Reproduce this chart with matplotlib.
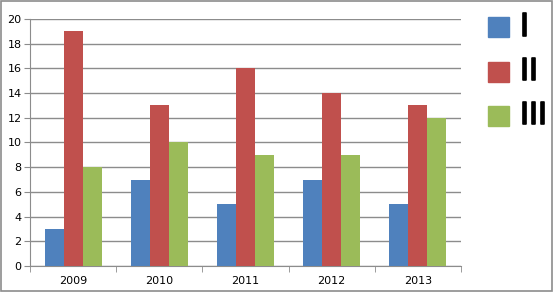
import matplotlib.pyplot as plt, numpy as np
from matplotlib.patches import Rectangle
import matplotlib.patheffects as pe

years = ['2009', '2010', '2011', '2012', '2013']
series_names = ['I', 'II', 'III']
s1 = [3, 7, 5, 7, 5]
s2 = [19, 13, 16, 14, 13]
s3 = [8, 10, 9, 9, 12]
colors = ['#4F81BD', '#C0504D', '#9BBB59']

fig = plt.figure(figsize=(5.53, 2.92), dpi=100)
ax = fig.add_axes([0.0542, 0.089, 0.7794, 0.846])

x = np.arange(len(years))
w = 0.22
for i, vals in enumerate([s1, s2, s3]):
    ax.bar(x + (i - 1) * w, vals, width=w, color=colors[i], label=series_names[i], zorder=3)

ax.set_xlim(-0.5, len(years) - 0.5)
ax.set_ylim(0, 20)
ax.set_yticks(range(0, 21, 2))
ax.yaxis.grid(True, color='#8c8c8c', linewidth=1, zorder=0)
ax.set_xticks(x)
ax.set_xticklabels(years)
ax.set_xticks(np.arange(-0.5, len(years)), minor=True)
ax.tick_params(axis='x', which='major', length=0, labelsize=8, pad=7)
ax.tick_params(axis='x', which='minor', length=4, color='#8c8c8c')
ax.tick_params(axis='y', length=4, color='#8c8c8c', labelsize=8, pad=2)
for s in ['top', 'right']:
    ax.spines[s].set_visible(False)
for s in ['left', 'bottom']:
    ax.spines[s].set_color('#8c8c8c')

# legend drawn by hand to match the big Roman numerals
for i, name in enumerate(series_names):
    y0 = 1 - (17 + i * 44.5 + 20) / 292
    fig.patches.append(Rectangle((488 / 553, y0), 21 / 553, 20 / 292,
                                 transform=fig.transFigure, color=colors[i]))
    fig.text(520 / 553, y0 + 10 / 292, name, fontsize=22,
             va='center', ha='left', color='black',
             path_effects=[pe.withStroke(linewidth=1.2, foreground='black')])

fig.patches.append(Rectangle((0.001, 0.002), 0.997, 0.995, transform=fig.transFigure,
                             fill=False, edgecolor='#8c8c8c', linewidth=1.2))

fig.savefig('out.png', dpi=100)
